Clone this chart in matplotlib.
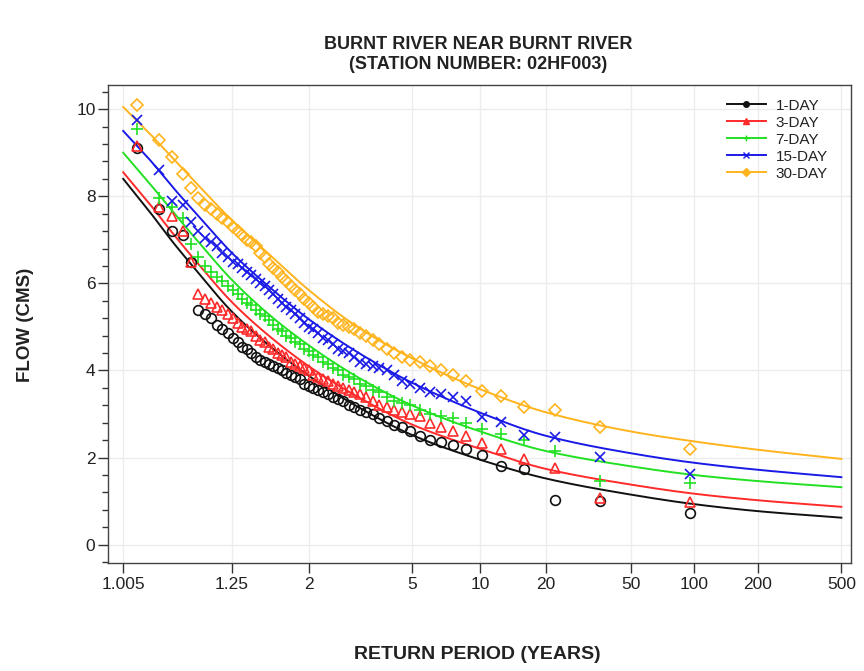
import numpy as np
import matplotlib
matplotlib.use("Agg")
import matplotlib.pyplot as plt
from matplotlib.ticker import FixedLocator, FixedFormatter, MultipleLocator

plt.rcParams['font.family'] = ['Liberation Sans', 'DejaVu Sans']

# Observed annual low flows (CMS), ranked from smallest (largest return period) upward
flow_1day = [0.72, 1.00, 1.02, 1.74, 1.80, 2.05, 2.20, 2.30, 2.35, 2.40, 2.50, 2.60, 2.70, 2.75,
             2.85, 2.90, 3.00, 3.05, 3.10, 3.15, 3.20, 3.30, 3.35, 3.40, 3.45, 3.50, 3.55, 3.60,
             3.65, 3.70, 3.80, 3.85, 3.90, 3.95, 4.00, 4.05, 4.10, 4.15, 4.20, 4.25, 4.30, 4.40,
             4.50, 4.55, 4.65, 4.75, 4.85, 4.95, 5.05, 5.20, 5.30, 5.40, 6.50, 7.10, 7.20, 7.70, 9.10]
flow_3day = [0.97, 1.08, 1.75, 1.97, 2.20, 2.33, 2.50, 2.60, 2.70, 2.80, 2.95, 3.00, 3.05, 3.10,
             3.15, 3.20, 3.30, 3.40, 3.45, 3.50, 3.55, 3.60, 3.65, 3.70, 3.75, 3.80, 3.85, 3.90,
             4.00, 4.05, 4.10, 4.15, 4.20, 4.30, 4.35, 4.40, 4.50, 4.55, 4.65, 4.70, 4.80, 4.90,
             4.95, 5.00, 5.10, 5.20, 5.30, 5.40, 5.45, 5.55, 5.65, 5.75, 6.50, 7.20, 7.55, 7.75, 9.15]
flow_7day = [1.42, 1.47, 2.15, 2.40, 2.55, 2.65, 2.80, 2.90, 2.95, 3.00, 3.10, 3.20, 3.25, 3.30,
             3.40, 3.50, 3.55, 3.65, 3.70, 3.80, 3.85, 3.90, 4.00, 4.05, 4.15, 4.20, 4.30, 4.35,
             4.45, 4.50, 4.60, 4.65, 4.75, 4.80, 4.90, 4.95, 5.05, 5.15, 5.25, 5.30, 5.40, 5.50,
             5.55, 5.65, 5.75, 5.85, 5.95, 6.05, 6.15, 6.25, 6.40, 6.60, 6.90, 7.50, 7.75, 7.95, 9.55]
flow_15day = [1.62, 2.01, 2.47, 2.52, 2.82, 2.93, 3.30, 3.40, 3.45, 3.50, 3.60, 3.70, 3.75, 3.90,
              4.00, 4.05, 4.10, 4.15, 4.20, 4.30, 4.40, 4.45, 4.50, 4.60, 4.70, 4.75, 4.85, 4.95,
              5.00, 5.10, 5.20, 5.30, 5.40, 5.45, 5.55, 5.65, 5.75, 5.85, 5.95, 6.00, 6.10, 6.20,
              6.25, 6.35, 6.45, 6.50, 6.60, 6.70, 6.85, 6.95, 7.05, 7.20, 7.40, 7.80, 7.90, 8.60, 9.75]
flow_30day = [2.20, 2.70, 3.09, 3.16, 3.41, 3.52, 3.75, 3.90, 4.00, 4.10, 4.20, 4.25, 4.30, 4.40,
              4.50, 4.60, 4.70, 4.80, 4.85, 4.95, 5.00, 5.05, 5.10, 5.20, 5.25, 5.30, 5.35, 5.45,
              5.55, 5.65, 5.75, 5.85, 5.95, 6.05, 6.15, 6.25, 6.35, 6.45, 6.60, 6.70, 6.85, 6.95,
              7.00, 7.10, 7.20, 7.30, 7.40, 7.50, 7.60, 7.70, 7.80, 7.95, 8.20, 8.50, 8.90, 9.30, 10.10]

# Fitted frequency curves, read at these return periods
curve_T = [1.005, 1.02, 1.05, 1.1, 1.25, 1.5, 2, 3, 5, 10, 20, 50, 100, 200, 500]
fit_1day = [8.40, 7.62, 6.92, 6.32, 5.35, 4.62, 3.88, 3.17, 2.52, 1.95, 1.52, 1.15, 0.93, 0.77, 0.62]
fit_3day = [8.55, 7.80, 7.12, 6.52, 5.57, 4.84, 4.10, 3.40, 2.76, 2.20, 1.74, 1.38, 1.17, 1.02, 0.87]
fit_7day = [9.00, 8.27, 7.62, 7.03, 6.08, 5.33, 4.58, 3.85, 3.20, 2.60, 2.15, 1.80, 1.60, 1.46, 1.32]
fit_15day = [9.50, 8.82, 8.18, 7.62, 6.70, 5.97, 5.18, 4.42, 3.72, 3.03, 2.50, 2.10, 1.88, 1.72, 1.55]
fit_30day = [10.05, 9.42, 8.85, 8.32, 7.45, 6.72, 5.85, 5.00, 4.28, 3.57, 3.04, 2.60, 2.37, 2.18, 1.97]

labels = ["1-DAY", "3-DAY", "7-DAY", "15-DAY", "30-DAY"]
tick_T = [1.005, 1.25, 2, 5, 10, 20, 50, 100, 200, 500]
tick_labels = ["1.005", "1.25", "2", "5", "10", "20", "50", "100", "200", "500"]

colors = ["#111111", "#ff2a2a", "#22e022", "#1a1ae6", "#ffb41e"]
markers = ["o", "^", "+", "x", "D"]
marker_sizes = [7.0, 7.5, 8.0, 7.0, 6.5]


def gumbel_fwd(T):
    T = np.asarray(T, dtype=float)
    with np.errstate(divide="ignore", invalid="ignore"):
        p = np.clip(1.0 - 1.0 / T, 1e-12, 1 - 1e-12)
        return -np.log(-np.log(p))


def gumbel_inv(g):
    g = np.asarray(g, dtype=float)
    with np.errstate(over="ignore", divide="ignore"):
        q = 1.0 - np.exp(-np.exp(-g))
        return 1.0 / np.clip(q, 1e-12, None)


def cunnane_T(n):
    rank = np.arange(1, n + 1)
    return (n + 0.2) / (rank - 0.4)


def smooth_curve(xk, yk, num=400):
    """Monotone cubic (Fritsch-Carlson) path through the given knots."""
    xk = np.asarray(xk, float)
    yk = np.asarray(yk, float)
    h = np.diff(xk)
    d = np.diff(yk) / h
    m = np.zeros_like(yk)
    m[0], m[-1] = d[0], d[-1]
    for k in range(1, len(xk) - 1):
        if d[k - 1] * d[k] > 0:
            w1 = 2 * h[k] + h[k - 1]
            w2 = h[k] + 2 * h[k - 1]
            m[k] = (w1 + w2) / (w1 / d[k - 1] + w2 / d[k])
    xs = np.linspace(xk[0], xk[-1], num)
    idx = np.clip(np.searchsorted(xk, xs) - 1, 0, len(h) - 1)
    t = (xs - xk[idx]) / h[idx]
    h00 = 2 * t**3 - 3 * t**2 + 1
    h10 = t**3 - 2 * t**2 + t
    h01 = -2 * t**3 + 3 * t**2
    h11 = t**3 - t**2
    ys = (h00 * yk[idx] + h10 * h[idx] * m[idx]
          + h01 * yk[idx + 1] + h11 * h[idx] * m[idx + 1])
    return xs, ys


fig = plt.figure(figsize=(8.64, 6.71), dpi=100)
ax = fig.add_axes([0.125, 0.161, 0.860, 0.712])
ax.set_xscale("function", functions=(gumbel_fwd, gumbel_inv))

series = [flow_1day, flow_3day, flow_7day, flow_15day, flow_30day]
fits = [fit_1day, fit_3day, fit_7day, fit_15day, fit_30day]

for obs, fit, c, m, ms, lab in zip(series, fits, colors, markers, marker_sizes, labels):
    T_obs = cunnane_T(len(obs))
    gx, gy = smooth_curve(gumbel_fwd(curve_T), fit)
    ax.plot(gumbel_inv(gx), gy, color=c, lw=1.4, zorder=3)
    ax.plot(T_obs, obs, linestyle="none", marker=m, ms=ms, mfc="none",
            mec=c, mew=1.2, zorder=4)
    ax.plot([], [], color=c, lw=1.4, marker=m, ms=4, mfc=c, mec=c, label=lab)

ax.set_xlim(1.0019, 556)
ax.set_ylim(-0.42, 10.55)
ax.xaxis.set_major_locator(FixedLocator(tick_T))
ax.xaxis.set_major_formatter(FixedFormatter(tick_labels))
ax.xaxis.set_minor_locator(FixedLocator([]))
ax.yaxis.set_major_locator(MultipleLocator(2))
ax.yaxis.set_minor_locator(MultipleLocator(0.4))

ax.grid(True, which="major", color="#ececec", lw=1.0, zorder=0)
ax.tick_params(axis="both", which="major", direction="out", length=7, width=1,
               labelsize=12.5, colors="#333333", labelcolor="#222222")
ax.tick_params(axis="y", which="minor", direction="out", length=4, width=1, colors="#333333")
ax.tick_params(axis="x", pad=3)
ax.tick_params(axis="y", pad=2)
for s in ax.spines.values():
    s.set_color("#444444")
    s.set_linewidth(1.0)

leg = ax.legend(loc="upper right", bbox_to_anchor=(0.989, 1.004), frameon=False,
                fontsize=11, handlelength=2.6, handletextpad=0.6, labelspacing=0.2,
                borderaxespad=0.6)
for t in leg.get_texts():
    t.set_color("#222222")

fig.text(0.553, 0.919, "BURNT RIVER NEAR BURNT RIVER\n(STATION NUMBER: 02HF003)",
         ha="center", va="center", fontsize=13, fontweight="bold", color="#222222",
         linespacing=1.25)
fig.text(0.553, 0.024, "RETURN PERIOD (YEARS)", ha="center", va="center",
         fontsize=14, fontweight="bold", color="#222222")
fig.text(0.03, 0.516, "FLOW (CMS)", ha="center", va="center", rotation=90,
         fontsize=13.5, fontweight="bold", color="#222222")

fig.savefig("out.png", dpi=100)
